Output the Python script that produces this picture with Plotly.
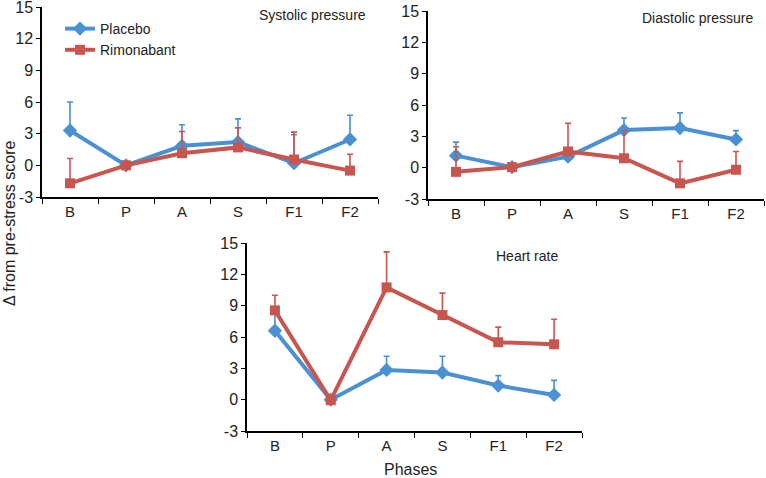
import plotly.graph_objects as go

phases = ["B", "P", "A", "S", "F1", "F2"]

# Systolic pressure
sys_placebo = [3.3, 0.0, 1.85, 2.2, 0.2, 2.45]
sys_placebo_err = [2.7, 0.0, 2.0, 2.2, 2.7, 2.3]
sys_rimo = [-1.7, 0.0, 1.15, 1.7, 0.55, -0.5]
sys_rimo_err = [2.35, 0.0, 2.05, 1.85, 2.6, 1.55]

# Diastolic pressure
dia_placebo = [1.15, 0.05, 1.05, 3.6, 3.8, 2.7]
dia_placebo_err = [1.3, 0.0, 0.5, 1.15, 1.45, 0.85]
dia_rimo = [-0.4, 0.05, 1.55, 0.9, -1.5, -0.2]
dia_rimo_err = [2.4, 0.0, 2.7, 2.65, 2.1, 1.75]

# Heart rate
hr_placebo = [6.6, 0.0, 2.85, 2.6, 1.35, 0.45]
hr_placebo_err = [1.9, 0.0, 1.3, 1.55, 0.95, 1.4]
hr_rimo = [8.55, -0.05, 10.75, 8.1, 5.5, 5.3]
hr_rimo_err = [1.45, 0.0, 3.4, 2.1, 1.45, 2.4]

y_ticks = [-3, 0, 3, 6, 9, 12, 15]
y_ticktext = ["-3", "0", "3", "6", "9", "12", "15"]

blue = "#4a90d2"
red = "#c8564e"

panels = [
    ("x", "y", sys_placebo, sys_placebo_err, sys_rimo, sys_rimo_err, True),
    ("x2", "y2", dia_placebo, dia_placebo_err, dia_rimo, dia_rimo_err, False),
    ("x3", "y3", hr_placebo, hr_placebo_err, hr_rimo, hr_rimo_err, False),
]

fig = go.Figure()
for xa, ya, pv, pe, rv, re, legend in panels:
    fig.add_trace(go.Scatter(
        x=phases, y=pv, xaxis=xa, yaxis=ya, name="Placebo",
        showlegend=legend, mode="lines+markers",
        line=dict(color=blue, width=4),
        marker=dict(symbol="diamond", size=11, color=blue),
        error_y=dict(type="data", symmetric=False, array=pe,
                     arrayminus=[0] * len(pe), color=blue, thickness=1.6, width=3),
    ))
    fig.add_trace(go.Scatter(
        x=phases, y=rv, xaxis=xa, yaxis=ya, name="Rimonabant",
        showlegend=legend, mode="lines+markers",
        line=dict(color=red, width=4),
        marker=dict(symbol="square", size=10, color=red),
        error_y=dict(type="data", symmetric=False, array=re,
                     arrayminus=[0] * len(re), color=red, thickness=1.6, width=3),
    ))

W, H = 766, 478


def xdom(a, b):
    return [a / W, b / W]


def ydom(bottom, top):
    return [1 - bottom / H, 1 - top / H]


xcommon = dict(type="category", range=[-0.5, 5.5], showline=True, linecolor="black",
               linewidth=1.5, ticks="outside", tickson="boundaries", ticklen=5,
               tickcolor="black", showgrid=False, zeroline=False, automargin=False,
               ticklabeloverflow="allow", tickfont=dict(size=15, color="#222"))
ycommon = dict(range=[-3, 15], tickvals=y_ticks, ticktext=y_ticktext, showline=True,
               linecolor="black", linewidth=1.5, ticks="outside", ticklen=4,
               tickcolor="black", showgrid=False, zeroline=False, automargin=False,
               ticklabeloverflow="allow", tickfont=dict(size=16, color="#222"))

fig.update_layout(
    width=W, height=H,
    margin=dict(l=0, r=0, t=0, b=0),
    plot_bgcolor="white", paper_bgcolor="white",
    font=dict(family="Liberation Sans, Arial, sans-serif", color="#222"),
    xaxis=dict(domain=xdom(42, 378), anchor="y", **xcommon),
    yaxis=dict(domain=ydom(197, 7), anchor="x", **ycommon),
    xaxis2=dict(domain=xdom(428, 764), anchor="y2", **xcommon),
    yaxis2=dict(domain=ydom(199, 11), anchor="x2", **ycommon),
    xaxis3=dict(domain=xdom(247, 582), anchor="y3", **xcommon),
    yaxis3=dict(domain=ydom(431, 243), anchor="x3", **ycommon),
    legend=dict(x=60 / W, y=1 - 13 / H, xanchor="left", yanchor="top",
                bgcolor="rgba(0,0,0,0)", font=dict(size=14), itemwidth=30),
    annotations=[
        dict(text="Systolic pressure", x=368 / W, y=1 - 15 / H, xref="paper", yref="paper",
             xanchor="right", yanchor="middle", showarrow=False, font=dict(size=14)),
        dict(text="Diastolic pressure", x=755 / W, y=1 - 18 / H, xref="paper", yref="paper",
             xanchor="right", yanchor="middle", showarrow=False, font=dict(size=14)),
        dict(text="Heart rate", x=560 / W, y=1 - 256 / H, xref="paper", yref="paper",
             xanchor="right", yanchor="middle", showarrow=False, font=dict(size=14)),
        dict(text="Phases", x=411 / W, y=1 - 469 / H, xref="paper", yref="paper",
             xanchor="center", yanchor="middle", showarrow=False, font=dict(size=16)),
        dict(text="Δ from pre-stress score", x=9 / W, y=1 - 224 / H, xref="paper",
             yref="paper", xanchor="center", yanchor="middle", textangle=-90,
             showarrow=False, font=dict(size=16)),
    ],
)

# the page's default body margin would shift the figure by 8px
fig.write_html("out.html", config={"displayModeBar": False},
               post_script="document.body.style.margin = '0';")
